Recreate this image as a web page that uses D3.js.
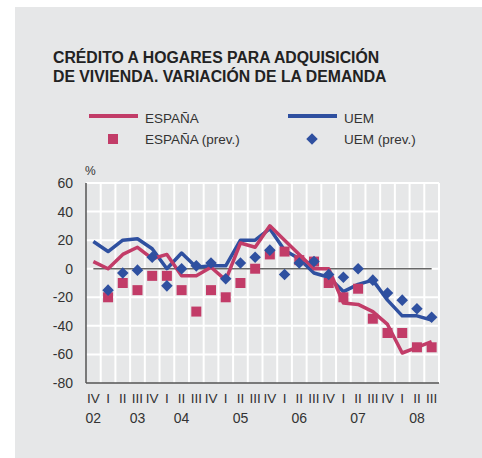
<!DOCTYPE html>
<html>
<head>
<meta charset="utf-8">
<script src="https://cdn.jsdelivr.net/npm/d3@7"></script>
<style>
  html, body { margin: 0; padding: 0; background: #fff; }
  svg { display: block; font-family: "Liberation Sans", Arial, sans-serif; }
</style>
</head>
<body>
<svg id="chart" width="482" height="458"></svg>
<script>
const periods = [
  'IV-02', 'I-03', 'II-03', 'III-03', 'IV-03', 'I-04', 'II-04', 'III-04',
  'IV-04', 'I-05', 'II-05', 'III-05', 'IV-05', 'I-06', 'II-06', 'III-06',
  'IV-06', 'I-07', 'II-07', 'III-07', 'IV-07', 'I-08', 'II-08', 'III-08',
];
const yearLabels = ['02', '03', '04', '05', '06', '07', '08'];
const yearPeriods = ['IV-02', 'III-03', 'II-04', 'II-05', 'II-06', 'II-07', 'II-08'];
const yTicks = [60, 40, 20, 0, -20, -40, -60, -80];

const espana = [5, 0, 10, 15, 7, 10, -5, -5, 1, -8, 18, 15, 30, 20, 10, 0, 0, -24, -25, -30, -39, -59, -55, -51];
const uem = [19, 12, 20, 21, 14, 0, 11, 1, 2, 2, 20, 20, 28, 13, 7, -3, -6, -16, -11, -8, -22, -33, -33, -36];
const espanaPrev = [null, -20, -10, -15, -5, -5, -15, -30, -15, -20, -10, 0, 10, 12, 6, 5, -10, -20, -14, -35, -45, -45, -55, -55];
const uemPrev = [null, -15, -3, -1, 8, -12, 0, 2, 4, -7, 4, 8, 13, -4, 4, 5, -4, -6, 0, -8, -17, -22, -28, -34];

const red = '#c23c68';
const blue = '#2f50a0';
const textColor = '#333';

const svg = d3.select('#chart');

// gray panel
svg.append('rect').attr('x', 15).attr('y', 7).attr('width', 467).attr('height', 451).attr('fill', '#e6e7e8');

// title
const title = svg.append('text').attr('fill', '#222').attr('font-size', 15.8).attr('font-weight', 'bold');
title.append('tspan').attr('x', 53).attr('y', 63).text('CRÉDITO A HOGARES PARA ADQUISICIÓN');
title.append('tspan').attr('x', 53).attr('y', 81.5).text('DE VIVIENDA. VARIACIÓN DE LA DEMANDA');

const x = d3.scaleBand().domain(periods).range([86, 439]).padding(0);
const y = d3.scaleLinear().domain([-80, 60]).range([383, 183]);
const cx = (p) => x(p) + x.bandwidth() / 2;

// grid
const grid = svg.append('g').attr('stroke', '#fff').attr('stroke-width', 2);
grid.selectAll('.vgrid')
  .data(periods.slice(1).concat(['end']))
  .join('line')
  .attr('x1', (d) => (d === 'end' ? x.range()[1] : x(d)))
  .attr('x2', (d) => (d === 'end' ? x.range()[1] : x(d)))
  .attr('y1', y(60))
  .attr('y2', y(-80));
grid.selectAll('.hgrid')
  .data(yTicks.filter((t) => t > -80))
  .join('line')
  .attr('x1', x.range()[0])
  .attr('x2', x.range()[1])
  .attr('y1', (d) => y(d))
  .attr('y2', (d) => y(d));

// axes lines
svg.append('line').attr('x1', 86).attr('x2', 86).attr('y1', y(60)).attr('y2', y(-80))
  .attr('stroke', '#555').attr('stroke-width', 1.5);
svg.append('line').attr('x1', 86).attr('x2', x.range()[1]).attr('y1', y(-80)).attr('y2', y(-80))
  .attr('stroke', '#555').attr('stroke-width', 1.5);

// zero line
svg.append('line')
  .attr('x1', cx(periods[0]))
  .attr('x2', cx(periods[periods.length - 1]))
  .attr('y1', y(0))
  .attr('y2', y(0))
  .attr('stroke', '#666')
  .attr('stroke-width', 1.5);

// y tick labels
svg.append('g')
  .selectAll('text')
  .data(yTicks)
  .join('text')
  .attr('x', 73)
  .attr('y', (d) => y(d) + 5)
  .attr('text-anchor', 'end')
  .attr('font-size', 14)
  .attr('fill', textColor)
  .text((d) => d);
svg.append('text').attr('x', 85).attr('y', 175).attr('font-size', 12).attr('fill', textColor).text('%');

// x tick labels
svg.append('g')
  .selectAll('text')
  .data(periods)
  .join('text')
  .attr('x', (d) => cx(d))
  .attr('y', 403)
  .attr('text-anchor', 'middle')
  .attr('font-size', 13.5)
  .attr('fill', textColor)
  .text((d) => d.split('-')[0]);
svg.append('g')
  .selectAll('text')
  .data(yearLabels)
  .join('text')
  .attr('x', (d, i) => cx(yearPeriods[i]))
  .attr('y', 423)
  .attr('text-anchor', 'middle')
  .attr('font-size', 14)
  .attr('fill', textColor)
  .text((d) => d);

// lines
const line = d3.line()
  .x((d, i) => cx(periods[i]))
  .y((d) => y(d));

svg.append('path').datum(uem).attr('d', line)
  .attr('fill', 'none').attr('stroke', blue).attr('stroke-width', 3.5).attr('stroke-linejoin', 'round');
svg.append('path').datum(espana).attr('d', line)
  .attr('fill', 'none').attr('stroke', red).attr('stroke-width', 3.5).attr('stroke-linejoin', 'round');

// markers
const squareSym = d3.symbol().type(d3.symbolSquare).size(100);
const diamondSym = d3.symbol().type(d3.symbolDiamond2).size(85);

svg.append('g')
  .selectAll('path')
  .data(espanaPrev.map((v, i) => ({ v, p: periods[i] })).filter((d) => d.v !== null))
  .join('path')
  .attr('d', squareSym)
  .attr('transform', (d) => `translate(${cx(d.p)},${y(d.v)})`)
  .attr('fill', red);

svg.append('g')
  .selectAll('path')
  .data(uemPrev.map((v, i) => ({ v, p: periods[i] })).filter((d) => d.v !== null))
  .join('path')
  .attr('d', diamondSym)
  .attr('transform', (d) => `translate(${cx(d.p)},${y(d.v)})`)
  .attr('fill', blue);

// legend
const legend = svg.append('g').attr('font-size', 13.5).attr('fill', textColor);
legend.append('line').attr('x1', 89).attr('x2', 138).attr('y1', 116).attr('y2', 116)
  .attr('stroke', red).attr('stroke-width', 4);
legend.append('text').attr('x', 145).attr('y', 123).text('ESPAÑA');
legend.append('line').attr('x1', 288).attr('x2', 337).attr('y1', 116).attr('y2', 116)
  .attr('stroke', blue).attr('stroke-width', 4);
legend.append('text').attr('x', 344).attr('y', 123).text('UEM');
legend.append('path').attr('d', squareSym).attr('transform', 'translate(113,139)').attr('fill', red);
legend.append('text').attr('x', 145).attr('y', 144).text('ESPAÑA (prev.)');
legend.append('path').attr('d', diamondSym).attr('transform', 'translate(312,139)').attr('fill', blue);
legend.append('text').attr('x', 344).attr('y', 144).text('UEM (prev.)');
</script>
</body>
</html>
